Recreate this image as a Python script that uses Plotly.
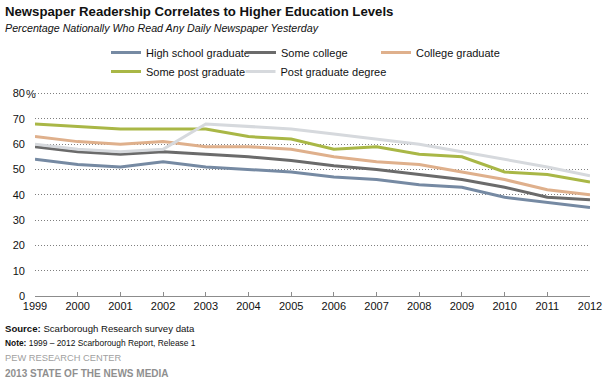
import plotly.graph_objects as go

years = list(range(1999, 2013))
series_names = ["High school graduate", "Some college", "College graduate",
                "Some post graduate", "Post graduate degree"]
high_school = [54, 52, 51, 53, 51, 50, 49, 47, 46, 44, 43, 39, 37, 35]
some_college = [59, 57, 56, 57, 56, 55, 53.5, 51.5, 50, 48, 46, 43, 39, 38]
college_grad = [63, 61, 60, 61, 59, 59, 58, 55, 53, 52, 49, 46, 42, 40]
some_post = [68, 67, 66, 66, 66, 63, 62, 58, 59, 56, 55, 49, 48, 45]
post_degree = [60, 58, 57, 58, 68, 67, 66, 64, 62, 60, 57, 54, 51, 47.5]
y_ticks = [0, 10, 20, 30, 40, 50, 60, 70, 80]

colors = ["#768aa3", "#6b6b6b", "#dfb08c", "#a9b746", "#d6d9dd"]
series = [high_school, some_college, college_grad, some_post, post_degree]
legend_ids = ["legend", "legend", "legend", "legend2", "legend3"]

FONT = "Arial, Liberation Sans, sans-serif"
fig = go.Figure()
for name, vals, c, lg in zip(series_names, series, colors, legend_ids):
    fig.add_trace(go.Scatter(x=years, y=vals, name=name, mode="lines", legend=lg,
                             line=dict(color=c, width=3)))

W, H = 614, 382
L, R, T, B = 35, 24, 91, 86
pw, ph = W - L - R, H - T - B

def px(x):
    return (x - L) / pw

def py(y):
    return (H - B - y) / ph

leg_common = dict(orientation="h", xanchor="left", yanchor="top",
                  font=dict(family=FONT, size=11, color="#111111"),
                  bgcolor="rgba(0,0,0,0)", tracegroupgap=0)

fig.update_layout(
    width=W, height=H,
    margin=dict(l=L, r=R, t=T, b=B, autoexpand=False),
    paper_bgcolor="white", plot_bgcolor="white",
    font=dict(family=FONT, size=11, color="#111111"),
    showlegend=True,
    legend=dict(x=px(106), y=py(38), entrywidth=90, entrywidthmode="pixels", **leg_common),
    legend2=dict(x=px(106), y=py(57), **leg_common),
    legend3=dict(x=px(240.5), y=py(57), **leg_common),
    xaxis=dict(range=[1999, 2012], tickvals=years, ticktext=[str(y) for y in years],
               showgrid=False, zeroline=False, showline=True, linecolor="#8c8c8c",
               linewidth=1, ticks="inside", ticklen=4, tickcolor="#8c8c8c",
               automargin=False,
               tickfont=dict(family=FONT, size=11, color="#111111")),
    yaxis=dict(range=[0, 81], tickvals=y_ticks, ticktext=[str(v) for v in y_ticks],
               showgrid=True, gridcolor="#7f7f7f", griddash="1px,2px", gridwidth=1,
               zeroline=False, showline=False, ticks="", ticklabelstandoff=9,
               automargin=False,
               tickfont=dict(family=FONT, size=11, color="#111111")),
)

annots = [
    dict(x=px(3), y=py(11), text="<b>Newspaper Readership Correlates to Higher Education Levels</b>",
         font=dict(size=13.2, color="#111111")),
    dict(x=px(3), y=py(28), text="<i>Percentage Nationally Who Read Any Daily Newspaper Yesterday</i>",
         font=dict(size=10.7, color="#111111")),
    dict(x=px(24), y=py(93.5), text="%", font=dict(size=11, color="#111111")),
    dict(x=px(3), y=py(328), text="<b>Source:</b> Scarborough Research survey data",
         font=dict(size=9.6, color="#111111")),
    dict(x=px(3), y=py(343), text="<b>Note:</b> 1999 \u2013 2012 Scarborough Report, Release 1",
         font=dict(size=8.4, color="#111111")),
    dict(x=px(3), y=py(358), text="PEW RESEARCH CENTER",
         font=dict(size=9.3, color="#a0a0a0")),
    dict(x=px(3), y=py(373), text="<b>2013 STATE OF THE NEWS MEDIA</b>",
         font=dict(size=10, color="#8f8f8f")),
]
for a in annots:
    fig.add_annotation(xref="paper", yref="paper", xanchor="left", yanchor="middle",
                       showarrow=False, x=a["x"], y=a["y"], text=a["text"],
                       font=dict(family=FONT, **a["font"]))

fig.write_html("out.html", config={"displayModeBar": False},
               post_script="document.body.style.margin='0';document.body.style.overflow='hidden';")
